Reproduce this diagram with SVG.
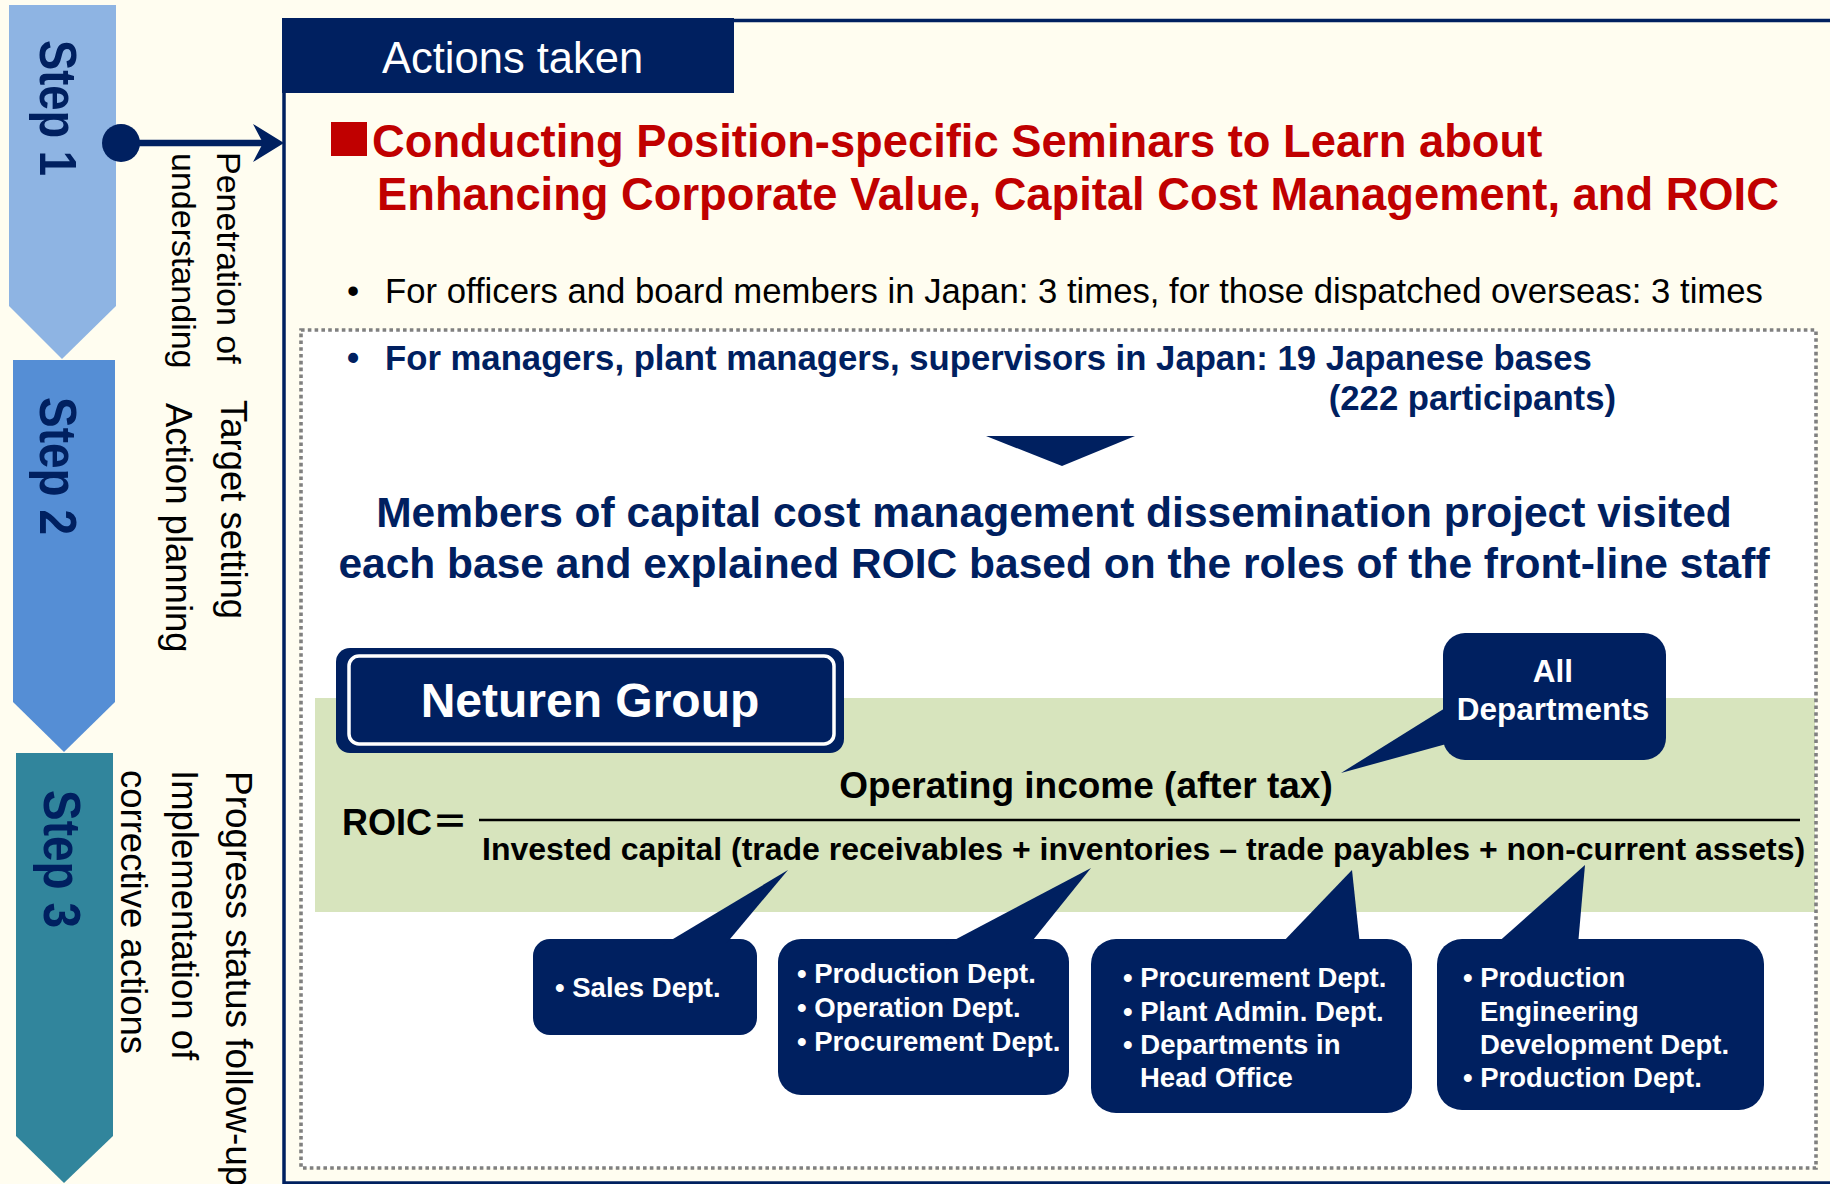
<svg xmlns="http://www.w3.org/2000/svg" width="1830" height="1184" viewBox="0 0 1830 1184">
  <style>
    text { font-family: 'Liberation Sans', Arial, sans-serif; }
    .b { font-weight: bold; }
    .navy { fill: #002060; }
    .white { fill: #ffffff; }
    .blk { fill: #000000; }
    .red { fill: #C00000; }
    .step { font-size: 51px; font-weight: bold; fill: #002060; }
    .side1 { font-size: 34px; fill: #000000; }
    .side { font-size: 36.5px; fill: #000000; }
    .call { font-size: 27.5px; font-weight: bold; fill: #ffffff; }
    .call-lg { font-size: 31.5px; font-weight: bold; fill: #ffffff; }
  </style>

  <!-- page background -->
  <rect x="0" y="0" width="1830" height="1184" fill="#FFFDF0"/>

  <!-- step chevrons -->
  <g id="step1">
    <polygon points="9,5 116,5 116,306 62,359 9,306" fill="#8EB4E3"/>
    <text class="step" transform="translate(39.5,40) rotate(90)" textLength="136" lengthAdjust="spacingAndGlyphs">Step 1</text>
    <text class="side1" transform="translate(217,152) rotate(90)">Penetration of</text>
    <text class="side1" transform="translate(172,153) rotate(90)">understanding</text>
  </g>
  <g id="step2">
    <polygon points="13,360 115,360 115,702 64,752 13,702" fill="#558ED5"/>
    <text class="step" transform="translate(40,397) rotate(90)" textLength="138" lengthAdjust="spacingAndGlyphs">Step 2</text>
    <text class="side" transform="translate(221,400) rotate(90)">Target setting</text>
    <text class="side" transform="translate(166,403) rotate(90)">Action planning</text>
  </g>
  <g id="step3">
    <polygon points="16,753 113,753 113,1136 64,1183 16,1136" fill="#31859C"/>
    <text class="step" transform="translate(43.5,790) rotate(90)" textLength="138" lengthAdjust="spacingAndGlyphs">Step 3</text>
    <text class="side" transform="translate(226,771) rotate(90)" style="font-size:37px">Progress status follow-up</text>
    <text class="side" transform="translate(172,770) rotate(90)">Implementation of</text>
    <text class="side" transform="translate(121,770) rotate(90)">corrective actions</text>
  </g>

  <!-- actions panel -->
  <g id="actions-panel">
    <rect x="284" y="20.5" width="1600" height="1162.5" fill="none" stroke="#002060" stroke-width="3.5"/>
    <rect x="282" y="18" width="452" height="75" fill="#002060"/>
    <text x="382" y="73" class="white" font-size="43.5">Actions taken</text>

    <rect x="331" y="122" width="36" height="34" fill="#C00000"/>
    <text x="372" y="157" class="b red" font-size="45.3">Conducting Position-specific Seminars to Learn about</text>
    <text x="377" y="210" class="b red" font-size="45.3">Enhancing Corporate Value, Capital Cost Management, and ROIC</text>

    <text y="303" class="blk" font-size="34.7"><tspan x="347">•</tspan><tspan x="385">For officers and board members in Japan: 3 times, for those dispatched overseas: 3 times</tspan></text>
  </g>

  <!-- front-line seminar area -->
  <g id="frontline-area">
    <rect x="301" y="330" width="1515" height="838" fill="#ffffff"/>
    <rect x="315" y="698" width="1500" height="214" fill="#D7E4BD"/>
    <rect x="301" y="330" width="1515" height="838" fill="none" stroke="#808080" stroke-width="3.6" stroke-dasharray="3.6 3.2"/>

    <text y="370" class="b navy" font-size="34.7"><tspan x="347">•</tspan><tspan x="385">For managers, plant managers, supervisors in Japan: 19 Japanese bases</tspan></text>
    <text x="1616" y="410" class="b navy" font-size="34.7" text-anchor="end">(222 participants)</text>

    <polygon points="986,436 1135,436 1062,466" fill="#002060"/>

    <text x="1054" y="527" class="b navy" font-size="42.5" text-anchor="middle">Members of capital cost management dissemination project visited</text>
    <text x="1054" y="578" class="b navy" font-size="42.5" text-anchor="middle">each base and explained ROIC based on the roles of the front-line staff</text>
  </g>

  <g id="neturen-group">
    <rect x="336" y="648" width="508" height="105" rx="14" fill="#002060"/>
    <rect x="349" y="656" width="485" height="88" rx="10" fill="none" stroke="#ffffff" stroke-width="3.5"/>
    <text x="590" y="717" class="b white" font-size="48" text-anchor="middle">Neturen Group</text>
  </g>

  <g id="roic-formula">
    <text x="342" y="835" class="b blk" font-size="36">ROIC<tspan font-family="'Noto Sans CJK JP', sans-serif">＝</tspan></text>
    <line x1="479" y1="820" x2="1800" y2="820" stroke="#000000" stroke-width="2.5"/>
    <text x="1086" y="798" class="b blk" font-size="37" text-anchor="middle">Operating income (after tax)</text>
    <text x="482" y="860" class="b blk" font-size="32">Invested capital (trade receivables + inventories – trade payables + non-current assets)</text>
  </g>

  <!-- callouts -->
  <g id="callout-all">
    <rect x="1443" y="633" width="223" height="127" rx="22" fill="#002060"/>
    <polygon points="1450,705 1341,773 1450,743" fill="#002060"/>
    <text x="1553" y="682" class="call-lg" text-anchor="middle">All</text>
    <text x="1553" y="720" class="call-lg" text-anchor="middle">Departments</text>
  </g>
  <g id="callout-sales">
    <rect x="533" y="939" width="224" height="96" rx="17" fill="#002060"/>
    <polygon points="663,945 788,870 725,945" fill="#002060"/>
    <text x="555" y="997" class="call">• Sales Dept.</text>
  </g>
  <g id="callout-production">
    <rect x="778" y="939" width="291" height="156" rx="23" fill="#002060"/>
    <polygon points="945,945 1091,868 1029,945" fill="#002060"/>
    <text x="797" y="983" class="call">• Production Dept.</text>
    <text x="797" y="1017" class="call">• Operation Dept.</text>
    <text x="797" y="1051" class="call">• Procurement Dept.</text>
  </g>
  <g id="callout-procurement">
    <rect x="1091" y="939" width="321" height="174" rx="25" fill="#002060"/>
    <polygon points="1280,945 1352,870 1360,945" fill="#002060"/>
    <text x="1123" y="987" class="call">• Procurement Dept.</text>
    <text x="1123" y="1021" class="call">• Plant Admin. Dept.</text>
    <text x="1123" y="1054" class="call">• Departments in</text>
    <text x="1140" y="1087" class="call">Head Office</text>
  </g>
  <g id="callout-engineering">
    <rect x="1437" y="939" width="327" height="171" rx="25" fill="#002060"/>
    <polygon points="1495,945 1585,865 1578,945" fill="#002060"/>
    <text x="1463" y="987" class="call">• Production</text>
    <text x="1480" y="1021" class="call">Engineering</text>
    <text x="1480" y="1054" class="call">Development Dept.</text>
    <text x="1463" y="1087" class="call">• Production Dept.</text>
  </g>

  <!-- connectors -->
  <g id="connectors">
    <circle cx="121" cy="143" r="19" fill="#002060"/>
    <line x1="121" y1="143" x2="266" y2="143" stroke="#002060" stroke-width="6.5"/>
    <path d="M284,143 L253,124 L263,143 L253,162 Z" fill="#002060"/>
  </g>
</svg>
